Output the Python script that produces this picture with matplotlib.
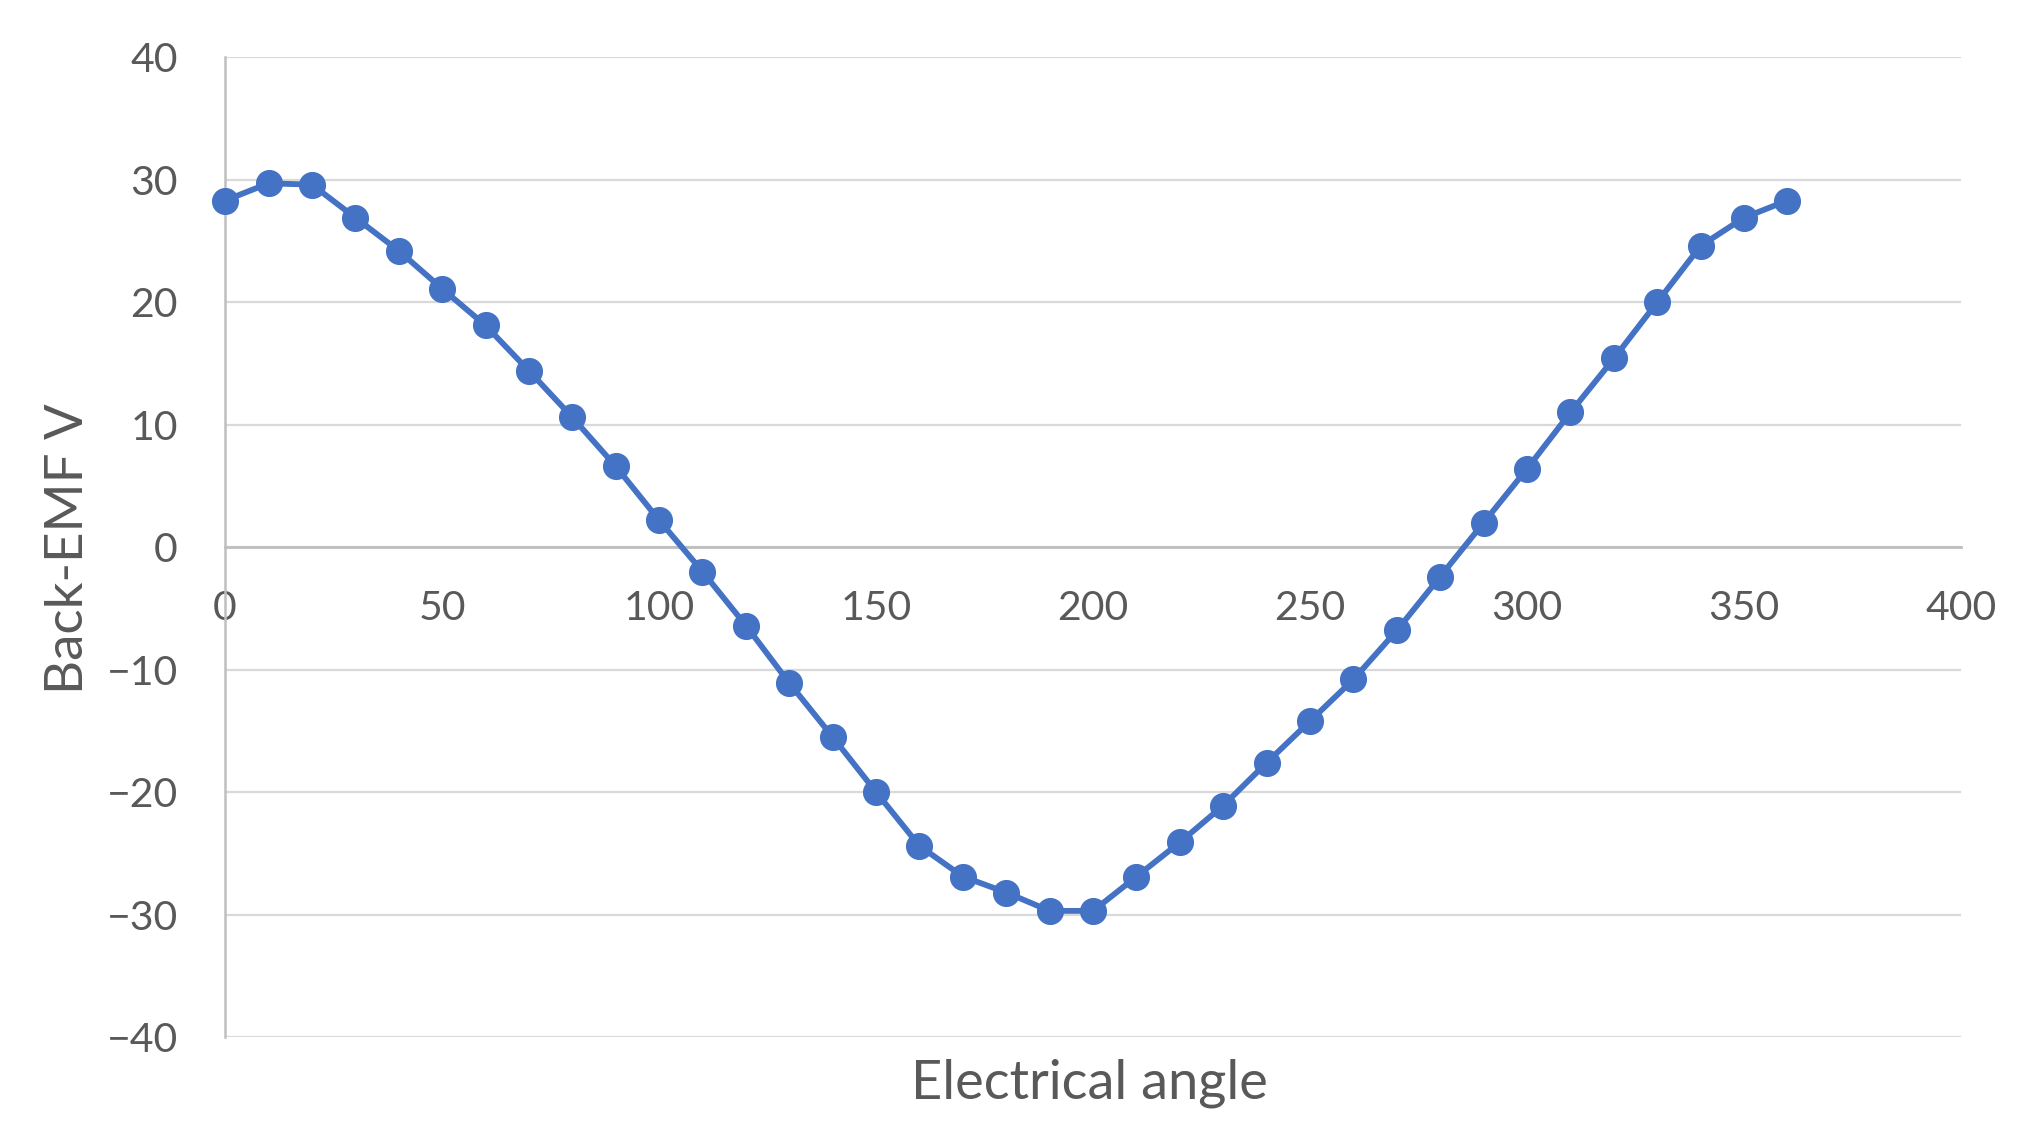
import matplotlib
matplotlib.use("Agg")
import matplotlib.pyplot as plt

plt.rcParams["font.family"] = ["Lato", "DejaVu Sans"]

# electrical angle (deg) and back-EMF (V)
angle = list(range(0, 361, 10))
emf = [28.3, 29.7, 29.6, 26.9, 24.2, 21.1, 18.1, 14.4, 10.6, 6.6,
       2.2, -2.0, -6.4, -11.1, -15.5, -20.0, -24.4, -26.9, -28.2, -29.7,
       -29.7, -26.9, -24.1, -21.1, -17.6, -14.2, -10.8, -6.8, -2.4, 2.0,
       6.4, 11.0, 15.4, 20.0, 24.6, 26.9, 28.3]
xticks = [0, 50, 100, 150, 200, 250, 300, 350, 400]
yticks = [-40, -30, -20, -10, 0, 10, 20, 30, 40]

LINE = "#4472C4"
GRID = "#d9d9d9"
AXIS = "#bfbfbf"
TXT = "#595959"

fig = plt.figure(figsize=(20.28, 11.44), dpi=100)
ax = fig.add_axes([0.111, 0.0935, 0.856, 0.8565])

ax.plot(angle, emf, color=LINE, lw=4.2, marker="o", ms=18.5, zorder=3, clip_on=False)

ax.set_xlim(0, 400)
ax.set_ylim(-40, 40)
ax.set_xticks(xticks)
ax.set_yticks(yticks)
ax.set_yticklabels([str(v).replace("-", "\u2212") for v in yticks])
ax.grid(True, axis="y", color=GRID, lw=1.6, zorder=0)
ax.set_axisbelow(True)

for s in ("top", "right"):
    ax.spines[s].set_visible(False)
ax.spines["left"].set_color(AXIS)
ax.spines["left"].set_linewidth(1.8)
ax.spines["bottom"].set_position(("data", 0))
ax.spines["bottom"].set_color(AXIS)
ax.spines["bottom"].set_linewidth(2.0)

ax.tick_params(axis="both", length=0, labelsize=29.5, colors=TXT)
ax.tick_params(axis="y", pad=34)
ax.tick_params(axis="x", pad=31)

fig.text(0.034, 0.52, "Back-EMF V", rotation=90, ha="center", va="center",
         fontsize=38, color=TXT)
fig.text(0.537, 0.053, "Electrical angle", ha="center", va="center",
         fontsize=39, color=TXT)

fig.savefig("out.png", dpi=100)
